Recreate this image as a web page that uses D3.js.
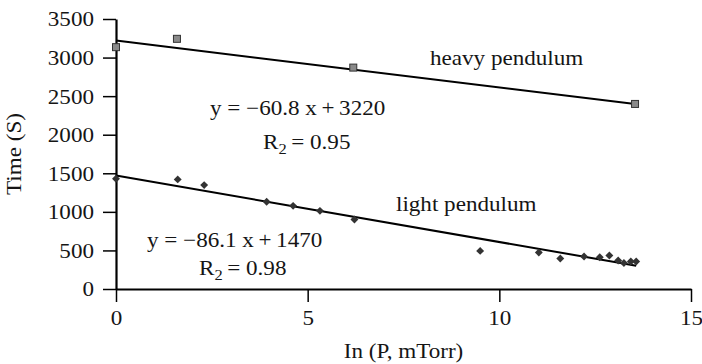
<!DOCTYPE html>
<html lang="en">
  <head>
    <meta charset="UTF-8" />
    <title>Pendulum decay time</title>
    <script src="https://d3js.org/d3.v7.min.js"></script>
    <style>
      body { margin: 0; background: #fff; }
      text { font-family: "Liberation Serif", "Times New Roman", serif; fill: #151515; }
    </style>
  </head>
  <body>
    <div id="chart"></div>
    <script>
      // heavy pendulum (squares)
      const heavyX = [0, 1.59, 6.19, 13.54];
      const heavyY = [3135, 3243, 2870, 2399];
      // light pendulum (diamonds)
      const lightX = [0, 1.61, 2.3, 3.93, 4.62, 5.32, 6.22, 9.5, 11.03, 11.59, 12.21, 12.62, 12.87, 13.1, 13.25, 13.43, 13.57];
      const lightY = [1429, 1421, 1347, 1130, 1078, 1013, 901, 494, 473, 395, 421, 412, 434, 369, 338, 356, 356];
      // linear fits, as printed on the chart
      const heavyFit = { slope: -60.8, icept: 3220, r2: "0.95" };
      const lightFit = { slope: -86.1, icept: 1470, r2: "0.98" };
      const xTicks = [0, 5, 10, 15];
      const yTicks = [0, 500, 1000, 1500, 2000, 2500, 3000, 3500];

      const W = 702, H = 364;
      const margin = { top: 19, right: 11, bottom: 75, left: 116 };
      const width = W - margin.left - margin.right,
        height = H - margin.top - margin.bottom;
      const fs = 21;
      const sx = 1.1; // the original is stretched sideways a little

      const svg = d3.select("#chart").append("svg")
        .attr("width", W).attr("height", H);
      const g = svg.append("g")
        .attr("transform", "translate(" + margin.left + "," + margin.top + ")");

      const x = d3.scaleLinear().domain([0, 15]).range([0, width]);
      const y = d3.scaleLinear().domain([0, 3500]).range([height, 0]);

      // stretch text horizontally around its anchor point
      function stretch(sel) {
        sel.each(function () {
          const t = d3.select(this);
          const tx = +t.attr("x") || 0, ty = +t.attr("y") || 0;
          t.attr("x", 0).attr("y", 0)
            .attr("transform", "translate(" + tx + "," + ty + ") scale(" + sx + ",1)");
        });
      }

      const yAxis = g.append("g")
        .call(d3.axisLeft(y).tickValues(yTicks).tickFormat(d3.format("d"))
          .tickSize(13).tickSizeOuter(0).tickPadding(9));
      const xAxis = g.append("g")
        .attr("transform", "translate(0," + height + ")")
        .call(d3.axisBottom(x).tickValues(xTicks).tickFormat(d3.format("d"))
          .tickSize(13).tickSizeOuter(0).tickPadding(8));

      [xAxis, yAxis].forEach((a) => {
        a.attr("font-family", null);
        a.select(".domain").attr("stroke", "#000").attr("stroke-width", 2.2);
        a.selectAll(".tick line").attr("stroke", "#000").attr("stroke-width", 1.5);
        a.selectAll("text").attr("font-size", fs).attr("fill", null);
      });
      yAxis.selectAll("text").attr("dy", "0.33em");
      xAxis.selectAll("text").attr("dy", "0.72em");
      stretch(yAxis.selectAll("text"));
      stretch(xAxis.selectAll("text"));

      // fit lines
      function fitLine(fit, x0, x1) {
        g.append("line")
          .attr("x1", x(x0)).attr("y1", y(fit.slope * x0 + fit.icept))
          .attr("x2", x(x1)).attr("y2", y(fit.slope * x1 + fit.icept))
          .attr("stroke", "#000").attr("stroke-width", 2);
      }
      fitLine(heavyFit, 0, d3.max(heavyX));
      fitLine(lightFit, 0, d3.max(lightX));

      // markers
      g.selectAll(".sq").data(heavyX).enter().append("rect")
        .attr("class", "sq")
        .attr("x", (d) => x(d) - 3.5)
        .attr("y", (d, i) => y(heavyY[i]) - 3.5)
        .attr("width", 7).attr("height", 7)
        .attr("fill", "#8a8a8a").attr("stroke", "#333").attr("stroke-width", 1);

      g.selectAll(".dm").data(lightX).enter().append("path")
        .attr("class", "dm")
        .attr("d", d3.symbol().type(d3.symbolDiamond2).size(40))
        .attr("transform", (d, i) => "translate(" + x(d) + "," + y(lightY[i]) + ")")
        .attr("fill", "#333");

      // annotations
      function label(px, py, str) {
        return svg.append("text").attr("x", px).attr("y", py)
          .attr("font-size", fs).text(str);
      }
      function rLabel(px, py, val) {
        const t = svg.append("text").attr("x", px).attr("y", py).attr("font-size", fs);
        t.append("tspan").text("R");
        t.append("tspan").attr("font-size", 15).attr("dy", 5).text("2");
        t.append("tspan").attr("dy", -5).text("\u2009= " + val);
        return t;
      }
      function eq(fit) {
        return "y = \u2212" + Math.abs(fit.slope).toFixed(1) + " x\u2009+\u2009" + fit.icept;
      }
      const notes = [
        label(430, 65, "heavy pendulum"),
        label(210, 115, eq(heavyFit)),
        rLabel(263, 149, heavyFit.r2),
        label(396, 211, "light pendulum"),
        label(147, 247, eq(lightFit)),
        rLabel(199, 275, lightFit.r2),
      ];
      notes.forEach((n) => stretch(n));

      // axis titles
      const xt = svg.append("text")
        .attr("x", margin.left + width / 2).attr("y", 358)
        .attr("font-size", fs).attr("text-anchor", "middle").text("In (P, mTorr)");
      stretch(xt);
      svg.append("text")
        .attr("transform", "translate(21," + (margin.top + height / 2) + ") rotate(-90) scale(" + sx + ",1)")
        .attr("font-size", fs).attr("text-anchor", "middle").text("Time (S)");
    </script>
  </body>
</html>
